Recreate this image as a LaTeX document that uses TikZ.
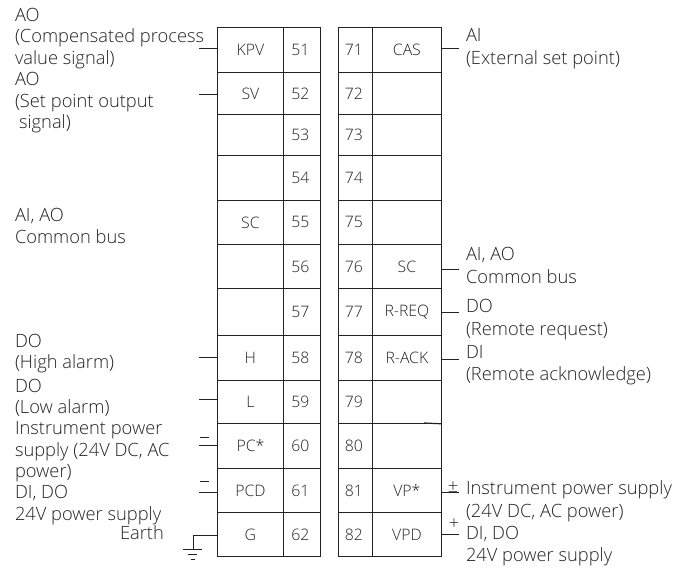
\documentclass[tikz,border=0pt]{standalone}
\usepackage{fontspec}
\setmainfont{Open Sans Light}[BoldFont={Open Sans}]
\definecolor{ink}{HTML}{222222}
\newcommand{\lbsize}{\fontsize{18.3}{21.4}\selectfont}
\newcommand{\rbsize}{\fontsize{18.3}{22.6}\selectfont}
\newcommand{\cellsize}{\fontsize{15.8}{17}\selectfont}
\begin{document}
\begin{tikzpicture}[x=1pt,y=-1pt,
  lead/.style={draw=ink,line width=0.8pt},
  txt/.style={inner sep=0pt,outer sep=0pt,anchor=west,align=left,text=ink,font=\lbsize},
  rtxt/.style={txt,font=\rbsize},
  sgn/.style={inner sep=0pt,outer sep=0pt,text=ink,font=\lbsize},
  cell/.style={draw=ink,line width=0.8pt,inner sep=0pt,anchor=north west,text=ink,font=\cellsize},
]
\useasboundingbox (0,0) rectangle (692,572);
\def\colA{217}\def\colB{283}\def\colC{338}\def\colD{372}
\foreach \n/\t/\h/\d/\lt/\rt in {
 51/27/45/0/KPV/CAS, 52/72/42/0/SV/{}, 53/114/41/3/{}/{}, 54/155/45/4/{}/{},
 55/200/44/0/SC/{}, 56/244/44/2/{}/SC, 57/288/47/0/{}/R-REQ, 58/335/45/0/H/R-ACK,
 59/380/43/0/L/{}, 60/423/45/0/PC*/{}, 61/468/44/0/PCD/VP*, 62/512/44/0/G/VPD}{
  \pgfmathtruncatemacro{\m}{\n+20}
  \node[cell,minimum width=66pt,minimum height=\h pt] (l\n) at (\colA,\t) {\lt};
  \node[cell,minimum width=37pt,minimum height=\h pt] (n\n) at (\colB,\t) {\hspace*{-3pt}\raisebox{-\d pt}{\n}};
  \node[cell,minimum width=34pt,minimum height=\h pt] (n\m) at (\colC,\t) {\hspace*{-3pt}\m};
  \node[cell,minimum width=69pt,minimum height=\h pt] (r\m) at (\colD,\t) {\rt};
}
\foreach \c/\y in {51/48,52/94,58/357,59/399,60/445,61/492}{
  \coordinate (e\c) at (199,\y);
  \draw[lead] (e\c) -- (l\c.west |- e\c);
}
\foreach \c/\y in {71/48,76/269,77/312,78/359,81/492,82/534}{
  \coordinate (e\c) at (459,\y);
  \draw[lead] (r\c.east |- e\c) -- (e\c);
}
\coordinate (gk) at (193,535);
\coordinate (g1) at (193,549);
\draw[lead] (l62.west |- gk) -- (gk) -- (g1);
\coordinate (b1a) at (183,549); \coordinate (b1b) at (202,549);
\coordinate (b2a) at (188,554); \coordinate (b2b) at (197,554);
\coordinate (b3a) at (190.5,559); \coordinate (b3b) at (195,559);
\draw[lead] (b1a) -- (b1b);
\draw[lead] (b2a) -- (b2b);
\draw[lead] (b3a) -- (b3b);
\coordinate (m1a) at (200,437); \coordinate (m1b) at (209,437);
\coordinate (m2a) at (200,481); \coordinate (m2b) at (209,481);
\draw[lead] (m1a) -- (m1b);
\draw[lead] (m2a) -- (m2b);
\coordinate (st) at (424,423);
\draw[draw=ink,line width=1.2pt] (st) -- (r79.south east);
\node[sgn] (pm) at (453,487) {±};
\node[sgn] (pl) at (454,524) {+};
\node[txt] (t1) at (15,70.5) {AO\\(Compensated process\\value signal)\\AO\\(Set point output\\\hspace*{4pt}signal)};
\node[txt] (t2) at (15,226) {AI, AO\\Common bus};
\node[txt] (t3) at (15,353.5) {DO\\(High alarm)};
\node[txt] (t4) at (15,398) {DO\\(Low alarm)};
\node[txt] (t5) at (15,452) {Instrument power\\supply (24V DC, AC\\power)};
\node[txt] (t6) at (15,505) {DI, DO\\24V power supply};
\node[txt] (t7) at (120,533) {Earth};
\node[rtxt] (u1) at (466,48.5) {AI\\(External set point)};
\node[rtxt] (u2) at (466,265.5) {AI, AO\\Common bus};
\node[rtxt] (u3) at (466,319.5) {DO\\(Remote request)};
\node[rtxt] (u4) at (466,365) {DI\\(Remote acknowledge)};
\node[rtxt] (u5) at (466,501) {Instrument power supply\\(24V DC, AC power)};
\node[rtxt] (u6) at (466,546) {DI, DO\\24V power supply};
\end{tikzpicture}
\end{document}
